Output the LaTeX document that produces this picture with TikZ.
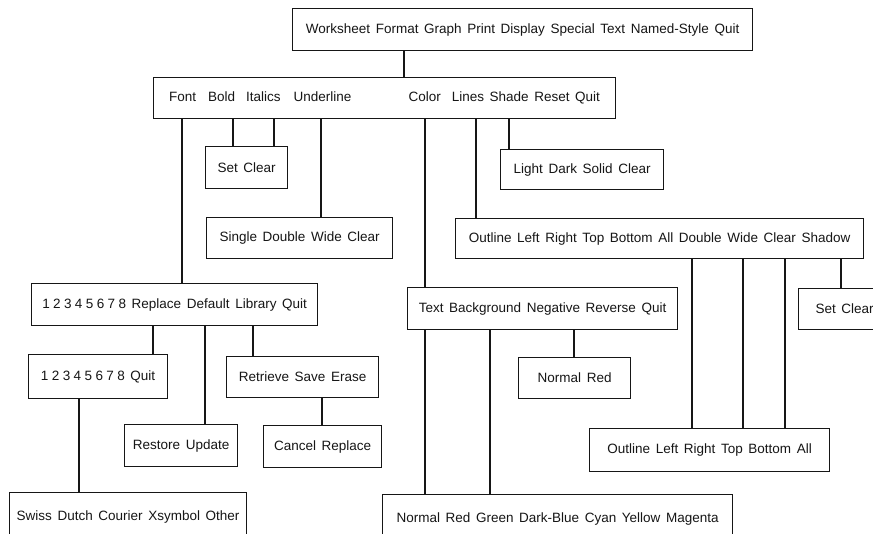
\documentclass[tikz,border=0pt]{standalone}
\usepackage{fontspec}
\setmainfont{Liberation Sans}[WordSpace=1.5]
\definecolor{inkLine}{HTML}{161616}
\definecolor{paperBg}{HTML}{FFFFFF}
\usepackage{tikz}
\usetikzlibrary{positioning}
\newcommand{\digitRow}{1\hspace{3.4pt}2\hspace{3.4pt}3\hspace{3.4pt}4\hspace{3.4pt}5\hspace{3.4pt}6\hspace{3.4pt}7\hspace{3.4pt}8}

\begin{document}
\begin{tikzpicture}[x=1pt, y=-1pt,
    menuBox/.style={draw=inkLine, line width=1.2pt, anchor=north west, inner sep=0pt,
                    font=\fontsize{13.5}{16}\selectfont, text=inkLine},
    link/.style={draw=inkLine, line width=1.2pt}]
  \useasboundingbox[fill=paperBg] (0,0) rectangle (873,533);
  \clip (0,0) rectangle (873,533);

  % menus
  \node[menuBox, minimum width=460pt, minimum height=42pt] (mainMenu) at (292,8)
    {Worksheet Format Graph Print Display Special Text Named-Style Quit};
  \node[menuBox, minimum width=462pt, minimum height=41pt] (textMenu) at (153,77)
    {Font\hspace{12pt}Bold\hspace{11pt}Italics\hspace{13pt}Underline\hspace{57pt}Color\hspace{11pt}Lines Shade Reset Quit};
  \node[menuBox, minimum width=82pt, minimum height=42pt] (boldBox) at (205,146) {Set Clear};
  \node[menuBox, minimum width=186pt, minimum height=41pt] (underBox) at (206,217) {Single Double Wide Clear};
  \node[menuBox, minimum width=163pt, minimum height=40pt] (shadeBox) at (500,149) {Light Dark Solid Clear};
  \node[menuBox, minimum width=408pt, minimum height=40pt] (linesBox) at (455,218)
    {Outline Left Right Top Bottom All Double Wide Clear Shadow};
  \node[menuBox, minimum width=286pt, minimum height=42pt] (fontBox) at (31,283)
    {\digitRow{} Replace Default Library Quit};
  \node[menuBox, minimum width=270pt, minimum height=42pt] (colorBox) at (407,287)
    {Text Background Negative Reverse Quit};
  \node[menuBox, minimum width=92pt, minimum height=41pt] (shadowBox) at (798,288) {Set Clear};
  \node[menuBox, minimum width=112pt, minimum height=41pt] (reverseBox) at (518,357) {Normal Red};
  \node[menuBox, minimum width=240pt, minimum height=43pt] (edgeBox) at (589,428)
    {Outline Left Right Top Bottom All};
  \node[menuBox, minimum width=139pt, minimum height=44pt] (sizeBox) at (28,354) {\digitRow{} Quit};
  \node[menuBox, minimum width=152pt, minimum height=41pt] (libBox) at (226,356) {Retrieve Save Erase};
  \node[menuBox, minimum width=113pt, minimum height=42pt] (replaceBox) at (124,424) {Restore Update};
  \node[menuBox, minimum width=118pt, minimum height=42pt] (cancelBox) at (263,425) {Cancel Replace};
  \node[menuBox, minimum width=237pt, minimum height=48pt] (faceBox) at (9,492)
    {Swiss Dutch Courier Xsymbol Other\hspace{10pt}};
  \node[menuBox, minimum width=350pt, minimum height=48pt] (paletteBox) at (382,494)
    {Normal Red Green Dark-Blue Cyan Yellow Magenta};

  % links
  \draw[link] (mainMenu.south -| 404,0) -- (textMenu.north -| 404,0);
  \draw[link] (textMenu.south -| 182,0) -- (fontBox.north -| 182,0);
  \draw[link] (textMenu.south -| 233,0) -- (boldBox.north -| 233,0);
  \draw[link] (textMenu.south -| 274,0) -- (boldBox.north -| 274,0);
  \draw[link] (textMenu.south -| 321,0) -- (underBox.north -| 321,0);
  \draw[link] (textMenu.south -| 425,0) -- (colorBox.north -| 425,0);
  \draw[link] (textMenu.south -| 476,0) -- (linesBox.north -| 476,0);
  \draw[link] (textMenu.south -| 509,0) -- (shadeBox.north -| 509,0);
  \draw[link] (linesBox.south -| 692,0) -- (edgeBox.north -| 692,0);
  \draw[link] (linesBox.south -| 743,0) -- (edgeBox.north -| 743,0);
  \draw[link] (linesBox.south -| 785,0) -- (edgeBox.north -| 785,0);
  \draw[link] (linesBox.south -| 841,0) -- (shadowBox.north -| 841,0);
  \draw[link] (colorBox.south -| 425,0) -- (paletteBox.north -| 425,0);
  \draw[link] (colorBox.south -| 490,0) -- (paletteBox.north -| 490,0);
  \draw[link] (colorBox.south -| 574,0) -- (reverseBox.north -| 574,0);
  \draw[link] (fontBox.south -| 153,0) -- (sizeBox.north -| 153,0);
  \draw[link] (fontBox.south -| 205,0) -- (replaceBox.north -| 205,0);
  \draw[link] (fontBox.south -| 253,0) -- (libBox.north -| 253,0);
  \draw[link] (sizeBox.south -| 79,0) -- (faceBox.north -| 79,0);
  \draw[link] (libBox.south -| 322,0) -- (cancelBox.north -| 322,0);
\end{tikzpicture}
\end{document}
